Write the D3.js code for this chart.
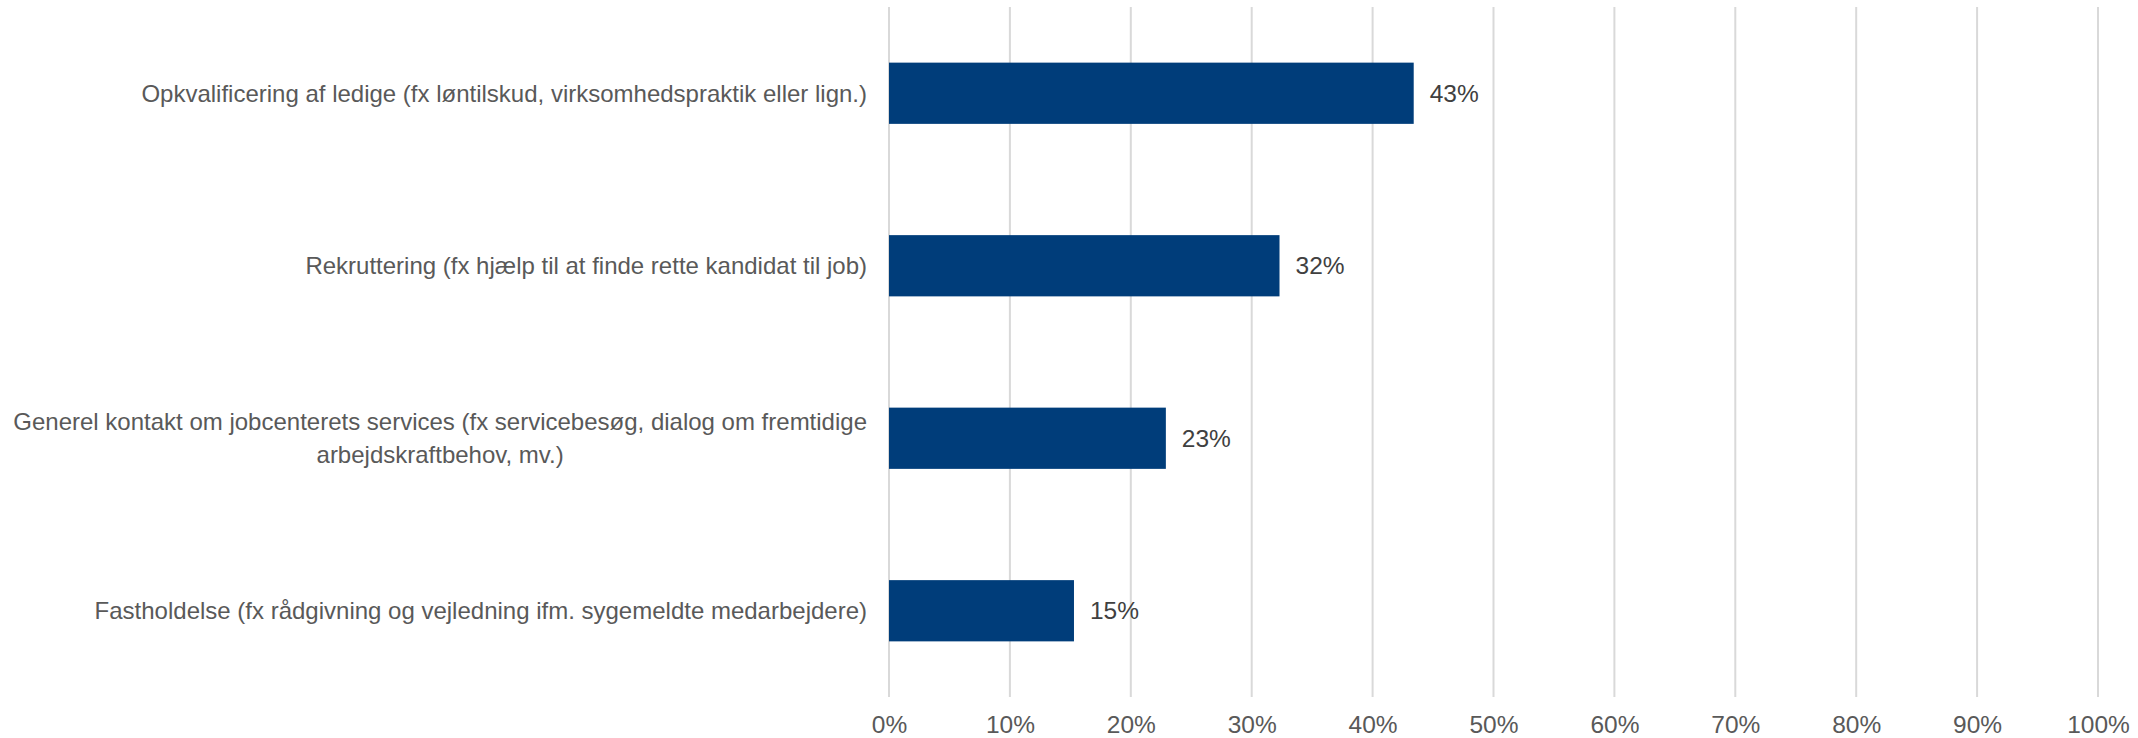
<!DOCTYPE html>
<html>
<head>
<meta charset="utf-8">
<script src="https://cdn.jsdelivr.net/npm/d3@7"></script>
<style>
  body { margin: 0; background: #fff; }
  text { font-family: Arial, "Liberation Sans", sans-serif; }
</style>
</head>
<body>
<script>
// data
const categories = [
  ["Opkvalificering af ledige (fx løntilskud, virksomhedspraktik eller lign.)"],
  ["Rekruttering (fx hjælp til at finde rette kandidat til job)"],
  ["Generel kontakt om jobcenterets services (fx servicebesøg, dialog om fremtidige", "arbejdskraftbehov, mv.)"],
  ["Fastholdelse (fx rådgivning og vejledning ifm. sygemeldte medarbejdere)"]
];
const values = [0.434, 0.323, 0.229, 0.153];
const valueLabels = ["43%", "32%", "23%", "15%"];
const ticks = [0, 0.1, 0.2, 0.3, 0.4, 0.5, 0.6, 0.7, 0.8, 0.9, 1.0];

const W = 2138, H = 738;
const margin = { top: 7, right: 40, bottom: 41, left: 889 };

const svg = d3.select('body').append('svg')
    .attr('width', W)
    .attr('height', H);

const x = d3.scaleLinear().domain([0, 1]).range([margin.left, 2098]);
const y = d3.scaleBand()
    .domain(d3.range(categories.length))
    .range([margin.top, H - margin.bottom])
    .paddingInner(0.645)
    .paddingOuter(0.3225);

// gridlines
svg.append('g').selectAll('line')
    .data(ticks)
    .enter().append('line')
    .attr('x1', d => x(d)).attr('x2', d => x(d))
    .attr('y1', margin.top).attr('y2', H - margin.bottom)
    .style('stroke', '#d9d9d9')
    .style('stroke-width', 2);

// x axis labels
const xAxis = d3.axisBottom(x).tickValues(ticks).tickFormat(d3.format('.0%')).tickSize(0);
const gx = svg.append('g')
    .attr('transform', `translate(0,${H - margin.bottom})`)
    .call(xAxis);
gx.select('.domain').remove();
gx.selectAll('text')
    .attr('y', 0)
    .attr('dy', 0)
    .attr('transform', 'translate(0,36)')
    .style('font-size', '24.5px')
    .style('fill', '#595959')
    .style('font-family', 'Arial, "Liberation Sans", sans-serif');

// bars
svg.append('g').selectAll('rect')
    .data(values)
    .enter().append('rect')
    .attr('x', x(0))
    .attr('y', (d, i) => y(i))
    .attr('width', d => x(d) - x(0))
    .attr('height', y.bandwidth())
    .style('fill', '#003d7a');

// value labels
svg.append('g').selectAll('text')
    .data(values)
    .enter().append('text')
    .attr('x', d => x(d) + 16)
    .attr('y', (d, i) => y(i) + y.bandwidth() / 2)
    .attr('dy', '0.35em')
    .style('font-size', '24.5px')
    .style('fill', '#404040')
    .text((d, i) => valueLabels[i]);

// category labels (lines centred within a right-aligned block)
const labelRight = 867;
const lineH = 32.5;
categories.forEach((lines, i) => {
    const g = svg.append('g');
    const cy = y(i) + y.bandwidth() / 2;
    const texts = lines.map((t, j) => g.append('text')
        .attr('y', cy + (j - (lines.length - 1) / 2) * lineH)
        .attr('dy', '0.35em')
        .attr('text-anchor', 'middle')
        .style('font-size', '24px')
        .style('fill', '#595959')
        .text(t));
    const maxW = d3.max(texts, t => t.node().getComputedTextLength());
    texts.forEach(t => t.attr('x', labelRight - maxW / 2));
});
</script>
</body>
</html>
